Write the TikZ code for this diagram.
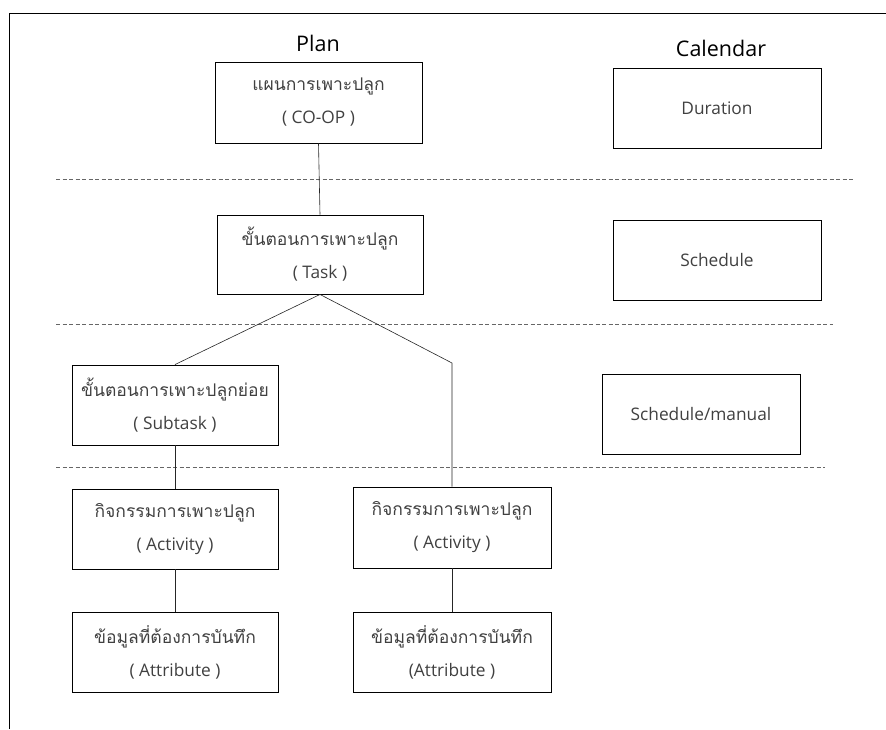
\documentclass[tikz,border=0pt]{standalone}
\usepackage{fontspec}
\setmainfont{Open Sans}
\newfontfamily\thaifont[Script=Thai]{Loma}
\newcommand{\thline}[1]{{\thaifont\fontsize{17.5}{33}\selectfont #1}}
\begin{document}
\begin{tikzpicture}[x=1pt,y=-1pt,
  box/.style={draw=black,line width=0.9pt,rectangle,minimum width=206pt,minimum height=80pt,inner sep=0pt,align=center,
    text=black!75,font=\fontsize{17.3}{33}\selectfont},
  head/.style={font=\fontsize{21.5}{24}\selectfont,text=black},
  conn/.style={draw=black!85,line width=0.6pt},
  sep/.style={draw=black!60,line width=0.6pt,dash pattern=on 4pt off 2.5pt}]
\useasboundingbox (0,0) rectangle (886,729);
% frame
\coordinate (fbl) at (9,729);
\coordinate (ftl) at (9,13);
\coordinate (ftr) at (886,13);
\draw[line width=0.9pt] (fbl) -- (ftl) -- (ftr);
% separators
\draw[sep] (56,179) -- (855,179);
\draw[sep] (56,324) -- (833,324);
\draw[sep] (56,467) -- (825,467);
% headings
\node[head] (plan) at (318,43) {Plan};
\node[head] (cal) at (721,48) {Calendar};
% plan boxes
\node[box,minimum width=207pt,minimum height=81pt] (coop) at (318.5,102.5) {\thline{แผนการเพาะปลูก}\\( CO-OP )};
\node[box,minimum height=79pt] (task) at (320,254.5) {\thline{ขั้นตอนการเพาะปลูก}\\( Task )};
\node[box] (sub) at (175,405) {\thline{ขั้นตอนการเพาะปลูกย่อย}\\( Subtask )};
\node[box] (act1) at (175,529) {\thline{กิจกรรมการเพาะปลูก}\\( Activity )};
\node[box] (att1) at (175,652) {\thline{ข้อมูลที่ต้องการบันทึก}\\( Attribute )};
\node[box,minimum width=198pt,minimum height=81pt] (act2) at (452,527.5) {\thline{กิจกรรมการเพาะปลูก}\\( Activity )};
\node[box,minimum width=198pt] (att2) at (452,652) {\thline{ข้อมูลที่ต้องการบันทึก}\\(Attribute )};
% calendar boxes
\node[box,minimum width=208pt] (dur) at (717,108) {Duration};
\node[box,minimum width=208pt] (sched) at (717,260) {Schedule};
\node[box,minimum width=198pt] (man) at (701,414) {Schedule/manual};
% connectors
\coordinate (bend) at (452,363);
\draw[conn] (coop.south) -- (task.north);
\draw[conn] (task.south) -- (sub.north);
\draw[conn] (task.south) -- (bend) -- (act2.north);
\draw[conn] (sub.south) -- (act1.north);
\draw[conn] (act1.south) -- (att1.north);
\draw[conn] (act2.south) -- (att2.north);
\end{tikzpicture}
\end{document}
